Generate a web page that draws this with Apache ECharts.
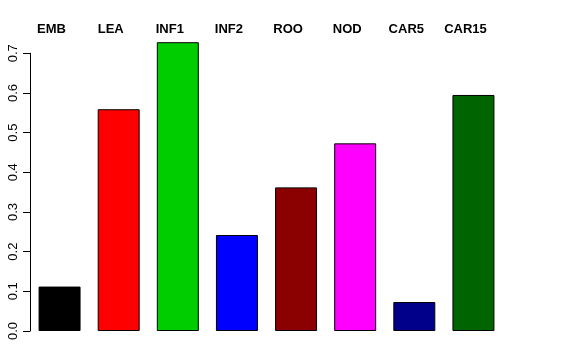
<!DOCTYPE html>
<html>
<head>
<meta charset="utf-8">
<script src="https://cdn.jsdelivr.net/npm/echarts@6/dist/echarts.min.js"></script>
<style>html,body{margin:0;padding:0;background:#fff}#c{width:576px;height:360px}</style>
</head>
<body>
<div id="c"></div>
<script>
const categories = ["EMB", "LEA", "INF1", "INF2", "ROO", "NOD", "CAR5", "CAR15"];
const values = [0.112, 0.559, 0.728, 0.242, 0.362, 0.473, 0.073, 0.595];
const yTicks = [0.0, 0.1, 0.2, 0.3, 0.4, 0.5, 0.6, 0.7];
const barColors = ["#000000", "#FF0000", "#00CD00", "#0000FF", "#8B0000", "#FF00FF", "#00008B", "#006400"];

const chart = echarts.init(document.getElementById('c'), null, {renderer: 'canvas'});
chart.setOption({
  animation: false,
  backgroundColor: '#ffffff',
  grid: {left: 30, right: 73, top: 53.3, bottom: 29, containLabel: false},
  xAxis: {
    type: 'category',
    position: 'top',
    data: categories,
    axisLine: {show: false},
    axisTick: {show: false},
    axisLabel: {
      fontFamily: 'Liberation Sans',
      fontWeight: 'bold',
      fontSize: 13,
      color: '#000',
      margin: 17,
      padding: [0, 16, 0, 0],
      interval: 0
    }
  },
  yAxis: {
    type: 'value',
    min: yTicks[0],
    max: yTicks[yTicks.length - 1],
    interval: 0.1,
    axisLine: {show: true, lineStyle: {color: '#000', width: 1}},
    axisTick: {show: true, length: 7, lineStyle: {color: '#000', width: 1}},
    splitLine: {show: false},
    axisLabel: {
      rotate: 90,
      fontFamily: 'Liberation Sans',
      fontSize: 13,
      color: '#000',
      margin: 10,
      formatter: v => v.toFixed(1)
    }
  },
  series: [{
    type: 'bar',
    clip: false,
    barCategoryGap: '29%',
    data: values.map((v, i) => ({
      value: v,
      itemStyle: {color: barColors[i], borderColor: '#000', borderWidth: 1}
    }))
  }]
});
</script>
</body>
</html>
